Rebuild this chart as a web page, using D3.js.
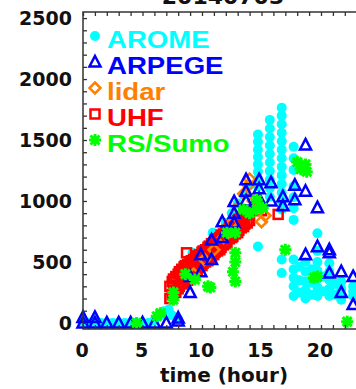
<!DOCTYPE html>
<html><head><meta charset="utf-8">
<script src="https://cdn.jsdelivr.net/npm/d3@7"></script>
<style>html,body{margin:0;padding:0;background:#fff;overflow:hidden}</style>
</head><body>
<script>
// ---- data (hour, boundary-layer height m) ----
const aromeT = [0,0.5,1,1.5,2,2.5,3,3.5,4,4.5,5,5.5,6,6.5,6.8,7.2,7.5,8,
  8.5,9.2,9.8,10.3,10.9,11.5,12,12.5,13,13.5,14,
  14.7,14.7,14.7,14.7,14.7,14.7,14.7,14.7,14.7,
  15.7,15.7,15.7,15.7,15.7,15.7,15.7,15.7,15.7,15.7,
  16.7,16.7,16.7,16.7,16.7,16.7,16.7,16.7,16.7,16.7,16.7,16.7,16.7,16.7,16.7,
  17.7,17.7,17.7,17.7,17.7,17.7,17.7,17.7,17.7,17.7,17.7,17.7,
  18.2,18.2,18.2,
  18.7,18.7,18.7,18.7,18.7,
  19.2,19.2,19.2,
  19.7,19.7,19.7,19.7,19.7,19.7,19.7,
  20.2,20.2,
  20.7,20.7,20.7,20.7,20.7,
  21.2,21.2,
  21.7,21.7,21.7,21.7,
  22.7,22.7,22.7];
const aromeV = [10,0,5,0,0,0,0,0,0,0,0,0,20,60,95,110,60,30,
  350,575,500,620,740,700,820,900,980,1050,1130,
  627,1120,1180,1240,1300,1360,1420,1485,1545,
  1035,1105,1175,1245,1315,1385,1455,1525,1595,1665,
  410,520,930,1000,1070,1140,1210,1280,1350,1420,1490,1560,1630,1700,1765,
  220,300,370,440,520,845,940,1030,1120,1255,1350,1445,
  250,350,460,
  200,270,340,420,500,
  230,330,440,
  220,290,360,430,500,590,735,
  260,380,
  220,280,350,420,490,
  230,320,
  190,230,280,340,
  220,260,300];

const arpegeT = [0,0,1,1,2,3,4,5,6,7,8,8,
  9,9,9.9,9.9,10.8,10.8,11.7,11.7,12.7,12.7,12.7,13.7,13.7,13.7,
  14.8,14.8,14.8,15.8,15.8,16.8,16.8,17.8,17.8,18.7,18.7,19.7,
  18.7,19.7,20.7,20.7,20.7,21.7,21.7,22.7,22.7];
const arpegeV = [45,0,45,0,0,0,0,0,0,0,40,15,
  250,380,420,560,680,520,830,700,995,900,820,1175,1080,1000,
  1175,1100,1020,1150,1000,1035,960,1130,1010,1460,1080,945,
  560,625,600,575,410,420,250,380,150];

const lidarT = [9.3,10.2,11,11.8,12.5,13,13.5,13.9,14.3,15.0,15.3,14];
const lidarV = [400,520,600,700,820,950,1060,1130,1000,830,880,1180];

const uhfT = [7.3,7.5,7.6,7.8,8.0,8.1,8.3,8.5,8.6,8.8,9.0,9.1,9.3,9.5,9.6,9.8,10.0,10.1,10.3,10.5,10.6,10.8,11.0,11.1,11.3,11.5,11.6,11.8,12.0,12.1,12.3,12.5,12.6,12.8,13.0,13.1,13.3,13.5,13.6,13.8,14.0,
  7.3,7.5,7.6,7.8,8.0,8.1,8.3,8.5,8.6,8.8,9.0,9.1,9.3,9.5,9.6,9.8,10.0,10.1,10.3,10.5,10.6,10.8,11.0,11.1,11.3,11.5,11.6,11.8,12.0,12.1,12.3,12.5,12.6,12.8,13.0,13.1,13.3,13.5,13.6,13.8,14.0,
  8.7,16.4,15.0,14.6];
const uhfV = [200,230,260,250,280,300,320,330,360,350,380,400,420,430,440,460,470,490,500,510,530,540,560,580,590,600,620,640,650,660,690,700,710,730,740,760,780,790,810,820,840,
  300,340,360,380,400,420,440,460,470,480,500,510,520,540,550,560,580,590,600,620,630,650,660,680,690,700,720,730,750,760,780,800,810,820,840,850,870,880,890,900,920,
  575,890,920,950];

const rsT = [4.5,6.2,6.5,7.6,7.6,8.6,9.4,10.5,10.7,12.1,12.8,12.8,12.8,12.6,12.8,13.5,14.0,14.6,15.1,14.6,17,18.0,18.3,18.7,18.8,19.4,19.7,22.2];
const rsV = [0,55,80,250,190,400,355,300,290,740,740,575,500,420,340,930,900,930,945,1010,600,1320,1260,1300,1240,370,380,10];

const xTicks = [0,5,10,15,20];
const yTicks = [0,500,1000,1500,2000,2500];
const legendNames = ["AROME","ARPEGE","lidar","UHF","RS/Sumo"];
const legendColors = ["#00ffff","#0000ff","#ff8000","#ff0000","#00ff00"];
const titleText = "20140703";
const xLabel = "time (hour)";

// ---- layout ----
const W = 356, H = 389;
const svg = d3.select("body").append("svg").attr("width", W).attr("height", H);
const x = d3.scaleLinear().domain([0, 24]).range([83, 83 + 24 * 11.9]);
const y = d3.scaleLinear().domain([-50, 2550]).range([329, 12]);
const axisCol = "#333";
const font = "'DejaVu Sans', sans-serif";
const legFont = "'Liberation Sans', Arial, sans-serif";

// markers
const sym = {
  circle: (g, c) => g.append("circle").attr("r", 5).attr("fill", c),
  triangle: (g, c) => g.append("path").attr("d", "M0,-6L5.5,4.5L-5.5,4.5Z").attr("fill", "none").attr("stroke", c).attr("stroke-width", 2.5),
  diamond: (g, c) => g.append("path").attr("d", "M0,-5.5L5.5,0L0,5.5L-5.5,0Z").attr("fill", "none").attr("stroke", c).attr("stroke-width", 2.5),
  square: (g, c) => g.append("rect").attr("x", -4.5).attr("y", -4.5).attr("width", 9).attr("height", 9).attr("fill", "none").attr("stroke", c).attr("stroke-width", 2.5),
  star: (g, c) => g.append("path").attr("d", "M-6,0L6,0M0,-6L0,6M-4.5,-4.5L4.5,4.5M-4.5,4.5L4.5,-4.5").attr("fill", "none").attr("stroke", c).attr("stroke-width", 3)
};

function drawSeries(T, V, kind, color) {
  const g = svg.append("g");
  T.forEach((t, i) => {
    const p = g.append("g").attr("transform", `translate(${x(t)},${y(V[i])})`);
    sym[kind](p, color);
  });
}
drawSeries(aromeT, aromeV, "circle", legendColors[0]);
drawSeries(uhfT, uhfV, "square", legendColors[3]);
drawSeries(lidarT, lidarV, "diamond", legendColors[2]);
drawSeries(arpegeT, arpegeV, "triangle", legendColors[1]);
drawSeries(rsT, rsV, "star", legendColors[4]);

// frame & axes
const x0 = x.range()[0], x1 = x.range()[1], yb = y.range()[0], yt = y.range()[1];
svg.append("rect").attr("x", x0).attr("y", yt).attr("width", x1 - x0).attr("height", yb - yt)
  .attr("fill", "none").attr("stroke", axisCol).attr("stroke-width", 1.5);

const xAxisB = d3.axisBottom(x).tickValues(d3.range(0, 25, 1)).tickSize(-4).tickFormat("");
svg.append("g").attr("transform", `translate(0,${yb})`).call(xAxisB)
  .call(g => { g.select(".domain").remove(); g.selectAll("line").attr("stroke", axisCol).attr("stroke-width", 1.3); });
const xAxisT = d3.axisTop(x).tickValues(d3.range(0, 25, 1)).tickSize(-4).tickFormat("");
svg.append("g").attr("transform", `translate(0,${yt})`).call(xAxisT)
  .call(g => { g.select(".domain").remove(); g.selectAll("line").attr("stroke", axisCol).attr("stroke-width", 1.3); });
const yAxisL = d3.axisLeft(y).tickValues(d3.range(0, 2501, 100)).tickSize(-4).tickFormat("");
svg.append("g").attr("transform", `translate(${x0},0)`).call(yAxisL)
  .call(g => { g.select(".domain").remove(); g.selectAll("line").attr("stroke", axisCol).attr("stroke-width", 1.3); });

// tick labels
svg.append("g").selectAll("text").data(xTicks).join("text")
  .attr("x", d => x(d) - 1).attr("y", 357).attr("text-anchor", "middle")
  .attr("font-family", font).attr("font-weight", "bold").attr("font-size", 19).attr("fill", "#111")
  .text(d => d);
svg.append("g").selectAll("text").data(yTicks).join("text")
  .attr("x", 72).attr("y", d => y(d) + 7).attr("text-anchor", "end")
  .attr("font-family", font).attr("font-weight", "bold").attr("font-size", 19).attr("fill", "#111")
  .text(d => d);

svg.append("text").attr("x", 224).attr("y", 382).attr("text-anchor", "middle")
  .attr("font-family", font).attr("font-weight", "bold").attr("font-size", 20).attr("fill", "#111")
  .text(xLabel);
svg.append("text").attr("x", 223).attr("y", 4).attr("text-anchor", "middle")
  .attr("font-family", font).attr("font-weight", "bold").attr("font-size", 22).attr("fill", "#111")
  .text(titleText);

// legend
const legKinds = ["circle", "triangle", "diamond", "square", "star"];
legendNames.forEach((n, i) => {
  const cy = 36 + i * 26;
  const p = svg.append("g").attr("transform", `translate(95,${cy})`);
  sym[legKinds[i]](p, legendColors[i]);
  svg.append("text").attr("transform", `translate(107,${48 + i * 26}) scale(1.2,1)`)
    .attr("font-family", legFont).attr("font-weight", "bold").attr("font-size", 23)
    .attr("fill", legendColors[i]).text(n);
});
</script>
</body></html>
